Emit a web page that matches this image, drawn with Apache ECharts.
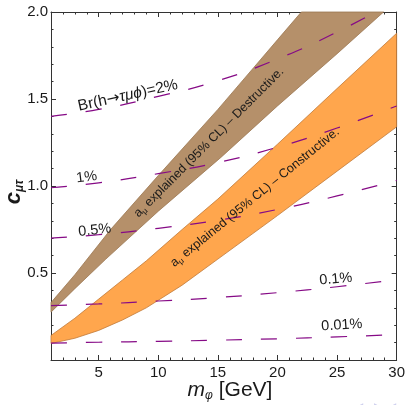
<!DOCTYPE html>
<html><head><meta charset="utf-8">
<script src="https://cdn.jsdelivr.net/npm/echarts@6/dist/echarts.min.js"></script>
<style>html,body{margin:0;padding:0;background:#fff}#c{width:408px;height:405px}</style>
</head><body><div id="c"></div>
<script>
// ---- tick values ----
const xTicks = [5, 10, 15, 20, 25, 30];
const xMinor = [2,3,4,6,7,8,9,11,12,13,14,16,17,18,19,21,22,23,24,26,27,28,29];
const yTicks = [0.5, 1.0, 1.5, 2.0];
const yMinor = [0.1,0.2,0.3,0.4,0.6,0.7,0.8,0.9,1.1,1.2,1.3,1.4,1.6,1.7,1.8,1.9];

// ---- Destructive band (brown) ----
const brownUpperX = [1, 3, 6, 10, 15, 18, 20, 22];
const brownUpperY = [0.33, 0.49, 0.75, 1.06, 1.44, 1.68, 1.84, 2.0];
const brownLowerX = [1, 3, 5.6, 10, 15.25, 20, 25, 28.9];
const brownLowerY = [0.275, 0.41, 0.58, 0.855, 1.164, 1.46, 1.76, 2.0];

// ---- Constructive band (orange) ----
const orangeX = [1, 3, 5, 7, 9, 12, 15, 20, 25, 30];
const orangeUpperY = [0.141, 0.24, 0.35, 0.46, 0.57, 0.75, 0.925, 1.24, 1.56, 1.878];
const orangeLowerY = [0.095, 0.125, 0.17, 0.23, 0.30, 0.43, 0.58, 0.83, 1.085, 1.34];

// ---- Br(h -> tau mu phi) contours ----
const brX = [1, 5, 10, 15, 20, 25, 30];
const br2pct   = [1.40, 1.44, 1.515, 1.605, 1.73, 1.885, 2.065];
const br1pct   = [0.99, 1.018, 1.071, 1.135, 1.223, 1.333, 1.46];
const br05pct  = [0.70, 0.72, 0.757, 0.803, 0.865, 0.943, 1.032];
const br01pct  = [0.313, 0.322, 0.339, 0.359, 0.387, 0.421, 0.462];
const br001pct = [0.097, 0.102, 0.107, 0.114, 0.122, 0.133, 0.146];

const FONT = 'Liberation Sans, Arial, sans-serif';
const FRAME = '#333';
const INK = '#1a1a1a';

function bandSeries(ux, uy, lx, ly, fill, stroke) {
  return {
    type: 'custom', z: 1, silent: true,
    data: [[ux[0], uy[0]]],
    renderItem: function (params, api) {
      const pts = [];
      for (let i = 0; i < ux.length; i++) pts.push(api.coord([ux[i], uy[i]]));
      for (let i = lx.length - 1; i >= 0; i--) pts.push(api.coord([lx[i], ly[i]]));
      return { type: 'polygon', shape: { points: pts }, style: { fill: fill, stroke: stroke, lineWidth: 0.8 } };
    }
  };
}
function dashSeries(ys) {
  return {
    type: 'line', z: 3, smooth: true, symbol: 'none', silent: true, clip: true,
    data: brX.map((x, i) => [x, ys[i]]),
    lineStyle: { color: '#860a86', width: 1.2, type: [16, 19] }
  };
}
function xAx(pos, major) {
  return {
    type: 'value', min: 1, max: 30, position: pos,
    axisLine: { show: major, onZero: false, lineStyle: { color: FRAME, width: 1 } },
    axisTick: { show: true, inside: true, length: major ? 5 : 2.5, customValues: major ? xTicks : xMinor, lineStyle: { color: FRAME, width: 1 } },
    axisLabel: { show: major && pos === 'bottom', customValues: xTicks, color: INK, fontSize: 15, fontFamily: FONT, margin: 5 },
    splitLine: { show: false }
  };
}
function yAx(pos, major) {
  return {
    type: 'value', min: 0, max: 2, position: pos,
    axisLine: { show: major, onZero: false, lineStyle: { color: FRAME, width: 1 } },
    axisTick: { show: true, inside: true, length: major ? 5 : 2.5, customValues: major ? yTicks : yMinor, lineStyle: { color: FRAME, width: 1 } },
    axisLabel: { show: major && pos === 'left', customValues: yTicks, formatter: v => v.toFixed(1), color: INK, fontSize: 15, fontFamily: FONT, margin: 3 },
    splitLine: { show: false }
  };
}

const chart = echarts.init(document.getElementById('c'), null, { renderer: 'canvas' });
chart.setOption({
  animation: false,
  backgroundColor: '#fff',
  grid: { left: 51, right: 9, top: 12, bottom: 45, containLabel: false },
  xAxis: [xAx('bottom', true), xAx('bottom', false), xAx('top', true), xAx('top', false)],
  yAxis: [yAx('left', true), yAx('left', false), yAx('right', true), yAx('right', false)],
  series: [
    bandSeries(brownUpperX, brownUpperY, brownLowerX, brownLowerY, '#b5906a', '#9a7650'),
    bandSeries(orangeX, orangeUpperY, orangeX, orangeLowerY, '#ffa64d', '#c07a38'),
    dashSeries(br2pct), dashSeries(br1pct), dashSeries(br05pct), dashSeries(br01pct), dashSeries(br001pct)
  ]
});

function P(x, y) { return chart.convertToPixel({ xAxisIndex: 0, yAxisIndex: 0 }, [x, y]); }
function label(x, y, deg, text, rich) {
  const p = P(x, y);
  return {
    type: 'text', x: p[0], y: p[1], rotation: deg * Math.PI / 180, z: 100,
    style: { text: text, rich: rich, align: 'center', verticalAlign: 'middle', fill: INK, font: '14px ' + FONT }
  };
}
const pctRich = { n: { fontSize: 14.5, fontFamily: FONT, fill: INK } };
const brRich = {
  n: { fontSize: 15.5, fontFamily: FONT, fill: INK },
  r: { fontSize: 15.5, fontFamily: 'DejaVu Sans', fill: INK },
  i: { fontSize: 15.5, fontFamily: FONT, fontStyle: 'italic', fill: INK }
};
const aRich = {
  a: { fontSize: 12.6, fontFamily: FONT, fill: INK, lineHeight: 15 },
  s: { fontSize: 8, fontFamily: FONT, fill: INK, lineHeight: 8, verticalAlign: 'bottom' }
};

const graphics = [
  label(7.45, 1.52, 12.5, '{n|Br(h}{r|→}{i|τμϕ}{n|)=2%}', brRich),
  label(4.0, 1.05, 7, '{n|1%}', pctRich),
  label(4.67, 0.746, 6, '{n|0.5%}', pctRich),
  label(24.9, 0.465, 5, '{n|0.1%}', pctRich),
  label(25.4, 0.20, 4, '{n|0.01%}', pctRich),
  label(14.25, 1.25, 45, '{a|a}{s|μ}{a| explained (95% CL) – Destructive.}', aRich),
  label(18.1, 0.934, 39, '{a|a}{s|μ}{a| explained (95% CL) – Constructive.}', aRich),
  {
    type: 'text', x: 230, y: 390, z: 100,
    style: {
      text: '{m|m}{s|φ}{t| [GeV]}', align: 'center', verticalAlign: 'middle',
      rich: {
        m: { fontSize: 21, fontFamily: FONT, fontStyle: 'italic', fill: INK, lineHeight: 24 },
        s: { fontSize: 12, fontFamily: FONT, fontStyle: 'italic', fill: INK, lineHeight: 13, verticalAlign: 'bottom' },
        t: { fontSize: 21, fontFamily: FONT, fill: INK, lineHeight: 24 }
      }
    }
  },
  {
    type: 'text', x: 14, y: 192, z: 100, rotation: Math.PI / 2,
    style: {
      text: '{c|c}{s|μτ}', align: 'center', verticalAlign: 'middle',
      rich: {
        c: { fontSize: 22, fontFamily: FONT, fontStyle: 'italic', fontWeight: 'bold', fill: INK, lineHeight: 23 },
        s: { fontSize: 12, fontFamily: FONT, fontStyle: 'italic', fontWeight: 'bold', fill: INK, lineHeight: 12, verticalAlign: 'bottom' }
      }
    }
  },
  {
    type: 'text', x: 375, y: 408, z: 100,
    style: { text: '◀ ▫ ▶ ◀', align: 'center', verticalAlign: 'middle', fill: '#cfd0ee', font: '12px ' + FONT }
  }
];
chart.setOption({ graphic: graphics });
</script>
</body></html>
